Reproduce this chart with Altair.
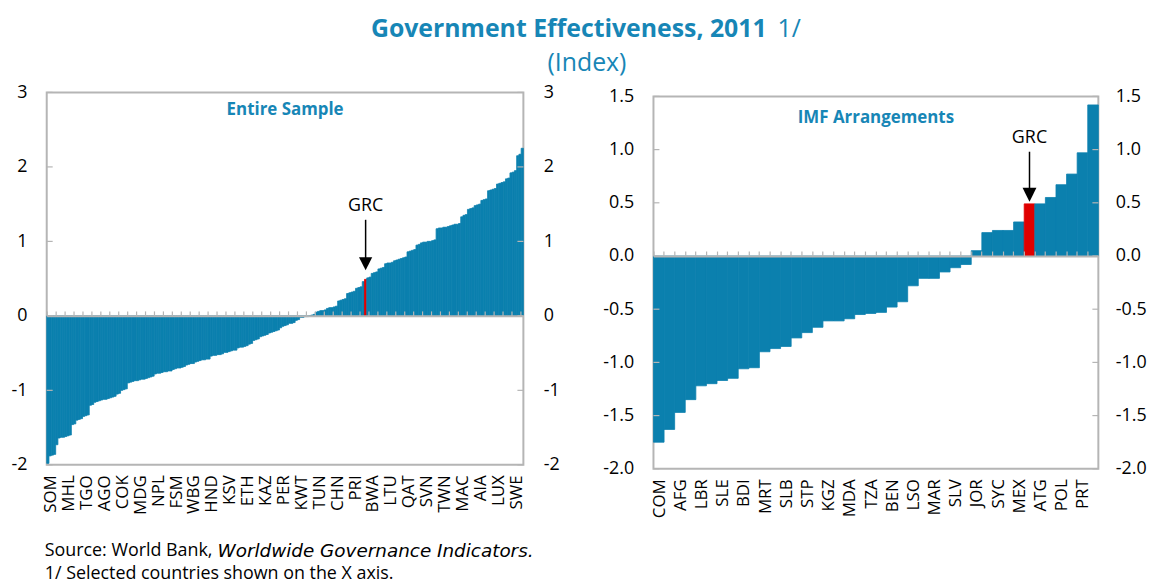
import altair as alt
import pandas as pd

# ---------------- data ----------------
left_values = [
    -1.98, -1.88, -1.87, -1.86, -1.73, -1.64, -1.63, -1.63, -1.62, -1.61,
    -1.60, -1.46, -1.45, -1.40, -1.39, -1.38, -1.35, -1.34, -1.33, -1.20,
    -1.19, -1.16, -1.15, -1.14, -1.13, -1.12, -1.12, -1.11, -1.10, -1.09,
    -1.08, -1.05, -1.04, -1.00, -0.99, -0.98, -0.90, -0.89, -0.88, -0.87,
    -0.87, -0.86, -0.85, -0.85, -0.84, -0.83, -0.82, -0.81, -0.78, -0.77,
    -0.77, -0.76, -0.75, -0.75, -0.74, -0.74, -0.72, -0.71, -0.70, -0.70,
    -0.69, -0.68, -0.66, -0.65, -0.64, -0.64, -0.62, -0.61, -0.60, -0.59,
    -0.59, -0.58, -0.58, -0.54, -0.53, -0.53, -0.52, -0.52, -0.51, -0.49,
    -0.49, -0.48, -0.47, -0.46, -0.46, -0.43, -0.42, -0.42, -0.41, -0.40,
    -0.38, -0.37, -0.33, -0.32, -0.31, -0.28, -0.27, -0.26, -0.25, -0.23,
    -0.22, -0.21, -0.20, -0.19, -0.16, -0.14, -0.13, -0.12, -0.10, -0.10,
    -0.09, -0.06, -0.05, -0.02, -0.02, -0.01, -0.01, 0.00, 0.01, 0.02,
    0.05, 0.06, 0.07, 0.07, 0.08, 0.10, 0.11, 0.11, 0.12, 0.13,
    0.20, 0.21, 0.22, 0.23, 0.30, 0.31, 0.32, 0.33, 0.37, 0.38,
    0.39, 0.46, 0.49, 0.51, 0.52, 0.57, 0.58, 0.59, 0.63, 0.64,
    0.65, 0.70, 0.71, 0.71, 0.72, 0.74, 0.75, 0.76, 0.77, 0.78,
    0.79, 0.86, 0.87, 0.88, 0.89, 0.95, 0.96, 0.98, 0.99, 0.99,
    1.00, 1.00, 1.01, 1.02, 1.17, 1.18, 1.18, 1.19, 1.19, 1.20,
    1.21, 1.22, 1.23, 1.23, 1.24, 1.33, 1.35, 1.36, 1.43, 1.44,
    1.45, 1.48, 1.49, 1.50, 1.55, 1.56, 1.57, 1.68, 1.69, 1.70,
    1.71, 1.77, 1.78, 1.79, 1.80, 1.84, 1.85, 1.92, 1.93, 1.95,
    2.15, 2.17, 2.25,
]
left_labels = ["SOM", "MHL", "TGO", "AGO", "COK", "MDG", "NPL", "FSM", "WBG",
               "HND", "KSV", "ETH", "KAZ", "PER", "KWT", "TUN", "CHN", "PRI",
               "BWA", "LTU", "QAT", "SVN", "TWN", "MAC", "AIA", "LUX", "SWE"]
left_label_step = 8
left_tick_step = 4
left_grc = 142

right_values = [
    -1.75, -1.63, -1.47, -1.35, -1.22, -1.20, -1.17, -1.15, -1.06, -1.05,
    -0.90, -0.87, -0.85, -0.77, -0.72, -0.67, -0.61, -0.61, -0.59, -0.55,
    -0.54, -0.53, -0.48, -0.43, -0.28, -0.21, -0.21, -0.15, -0.11, -0.08,
    0.05, 0.22, 0.24, 0.24, 0.32, 0.49, 0.49, 0.55, 0.67, 0.77,
    0.97, 1.42,
]
right_labels = ["COM", "AFG", "LBR", "SLE", "BDI", "MRT", "SLB", "STP", "KGZ",
                "MDA", "TZA", "BEN", "LSO", "MAR", "SLV", "JOR", "SYC", "MEX",
                "ATG", "POL", "PRT"]
right_label_step = 2
right_tick_step = 1
right_grc = 35

left_yticks = [-2, -1, 0, 1, 2, 3]
right_yticks = [-2.0, -1.5, -1.0, -0.5, 0.0, 0.5, 1.0, 1.5]

title_main = "Government Effectiveness, 2011"
title_note = "1/"
title_sub = "(Index)"
left_title = "Entire Sample"
right_title = "IMF Arrangements"
grc_name = "GRC"
source_a = "Source: World Bank,"
source_b = "Worldwide Governance Indicators."
note_line = "1/ Selected countries shown on the X axis."

# ---------------- style ----------------
FONT = "Open Sans"
TEAL = "#0B80AE"
TITLE_TEAL = "#1786B6"
RED = "#E00000"
GREY = "#B5B5B5"
LABEL_SIZE = 18
XLABEL_SIZE = 17

ARROW_PATH = "M-1,-1L1,-1L0,1Z"


def panel(values, labels, step, tick_step, grc, ymin, ymax, yticks, fmt,
          W, H, title, title_y, txt_v, shaft_top_v, head_v, head_size,
          right_pad, label_offset, footer=False):
    n = len(values)
    df = pd.DataFrame({"idx": list(range(n)), "v": values})
    df["grc"] = df["idx"] == grc
    label_arr = "[" + ",".join("'%s'" % s for s in labels) + "]"
    xscale = alt.Scale(paddingInner=0, paddingOuter=0)
    yscale = alt.Scale(domain=[ymin, ymax], nice=False, zero=False)
    ylab = "replace(format(datum.value, '%s'), '\u2212', '-')" % fmt
    zero_off = H * ymax / (ymax - ymin)

    base = alt.Chart(df)
    colr = alt.condition("datum.grc", alt.value(RED), alt.value(TEAL))
    bars = base.mark_bar(strokeWidth=0.8).encode(
        x=alt.X("idx:O", scale=xscale, title=None,
                axis=alt.Axis(orient="bottom", values=list(range(0, n, step)),
                              labelExpr="%s[datum.value/%d]" % (label_arr, step),
                              labelAngle=270, labelFontSize=XLABEL_SIZE,
                              labelPadding=10, labelOffset=label_offset,
                              ticks=False, tickSize=0,
                              domain=False, labelOverlap=False, grid=False)),
        y=alt.Y("v:Q", scale=yscale, title=None,
                axis=alt.Axis(orient="left", values=yticks, labelExpr=ylab,
                              ticks=False, domain=False, grid=False,
                              labelPadding=20, labelFontSize=LABEL_SIZE)),
        fill=colr,
        stroke=colr,
    )
    zero_axis = base.mark_bar(opacity=0).encode(
        x=alt.X("idx:O", scale=xscale, title=None,
                axis=alt.Axis(orient="top", offset=-zero_off,
                              values=list(range(0, n, tick_step)),
                              bandPosition=0, labels=False, ticks=True,
                              tickSize=5, tickColor=GREY, tickWidth=1.2,
                              domain=True, domainColor=GREY, domainWidth=2,
                              grid=False, zindex=1)),
        y=alt.Y("v:Q", scale=yscale, title=None,
                axis=alt.Axis(orient="right", values=yticks, labelExpr=ylab,
                              ticks=False, domain=False, grid=False,
                              labelPadding=right_pad,
                              labelFontSize=LABEL_SIZE)),
    )
    tdf = pd.DataFrame({"t": yticks})
    tick_l = alt.Chart(tdf).mark_rule(color=GREY, strokeWidth=1.2).encode(
        y=alt.Y("t:Q", scale=yscale, axis=None),
        x=alt.value(0), x2=alt.value(6))
    tick_r = alt.Chart(tdf).mark_rule(color=GREY, strokeWidth=1.2).encode(
        y=alt.Y("t:Q", scale=yscale, axis=None),
        x=alt.value(W - 6), x2=alt.value(W))

    ann = pd.DataFrame({"idx": [grc], "txt_v": [txt_v], "top": [shaft_top_v],
                        "head": [head_v], "name": [grc_name]})
    abase = alt.Chart(ann)
    txt = abase.mark_text(font=FONT, fontSize=LABEL_SIZE, color="black").encode(
        x=alt.X("idx:O", scale=xscale, axis=None),
        y=alt.Y("txt_v:Q", scale=yscale, axis=None),
        text="name:N")
    shaft = abase.mark_rule(color="black", strokeWidth=1.5).encode(
        x=alt.X("idx:O", scale=xscale, axis=None),
        y=alt.Y("top:Q", scale=yscale, axis=None),
        y2="head:Q")
    head = abase.mark_point(shape=ARROW_PATH, filled=True, color="black",
                            size=head_size, opacity=1).encode(
        x=alt.X("idx:O", scale=xscale, axis=None),
        y=alt.Y("head:Q", scale=yscale, axis=None))

    ptitle = alt.Chart(pd.DataFrame({"t": [title]})).mark_text(
        font=FONT, fontSize=17, fontWeight="bold", color=TITLE_TEAL).encode(
        x=alt.value(W / 2), y=alt.value(title_y), text="t:N")

    layers = [bars, zero_axis, tick_l, tick_r, txt, shaft, head, ptitle]
    if footer:
        f1 = alt.Chart(pd.DataFrame({"t": [source_a]})).mark_text(
            font=FONT, fontSize=18, align="left", color="black").encode(
            x=alt.value(-2), y=alt.value(H + 87), text="t:N")
        f2 = alt.Chart(pd.DataFrame({"t": [source_b]})).mark_text(
            font="DejaVu Sans", fontSize=18.5, align="left",
            fontStyle="italic", color="black").encode(
            x=alt.value(172), y=alt.value(H + 87), text="t:N")
        f3 = alt.Chart(pd.DataFrame({"t": [note_line]})).mark_text(
            font=FONT, fontSize=18, align="left", color="black").encode(
            x=alt.value(-2), y=alt.value(H + 110), text="t:N")
        layers += [f1, f2, f3]

    return alt.layer(*layers).resolve_axis(
        x="independent", y="independent").properties(width=W, height=H)


left = panel(left_values, left_labels, left_label_step, left_tick_step,
             left_grc, -2, 3, left_yticks, "d", 480, 375, left_title, 18,
             1.48, 1.29, 0.70, 177, 20, 3.4, footer=True)
right = panel(right_values, right_labels, right_label_step, right_tick_step,
              right_grc, -2, 1.5, right_yticks, ".1f", 448, 375, right_title,
              22, 1.11, 0.98, 0.575, 196, 17, 1.0)

# small empty strip that lowers the right panel by 4px
spacer = alt.Chart(pd.DataFrame({"k": [0]})).mark_rule(
    strokeOpacity=0).encode(
    x=alt.value(0), x2=alt.value(1), y=alt.value(0)).properties(
    width=448, height=4, view=alt.ViewBackground(stroke="transparent"))
right_col = alt.vconcat(spacer, right, spacing=0, bounds="flush")

hdr_df = pd.DataFrame({"k": [0]})
h1 = alt.Chart(hdr_df).mark_text(
    text=title_main, font=FONT, fontSize=25, fontWeight="bold",
    color=TITLE_TEAL, align="right").encode(x=alt.value(725), y=alt.value(18))
h2 = alt.Chart(hdr_df).mark_text(
    text=title_note, font=FONT, fontSize=25, color=TITLE_TEAL,
    align="left").encode(x=alt.value(736), y=alt.value(18))
h3 = alt.Chart(hdr_df).mark_text(
    text=title_sub, font=FONT, fontSize=25, color=TITLE_TEAL,
    align="center").encode(x=alt.value(544), y=alt.value(52))
header = alt.layer(h1, h2, h3).properties(
    width=1095, height=71, view=alt.ViewBackground(stroke="transparent"))

chart = alt.vconcat(
    header,
    alt.hconcat(left, right_col, spacing=40),
    spacing=0,
).properties(
    padding={"left": 1, "top": 0, "right": 0, "bottom": 0},
).configure_view(
    stroke=GREY, strokeWidth=2,
).configure_axis(
    labelFont=FONT, labelColor="black",
).configure_text(font=FONT)

chart.save("out.html", embed_options={"renderer": "svg", "actions": False})
